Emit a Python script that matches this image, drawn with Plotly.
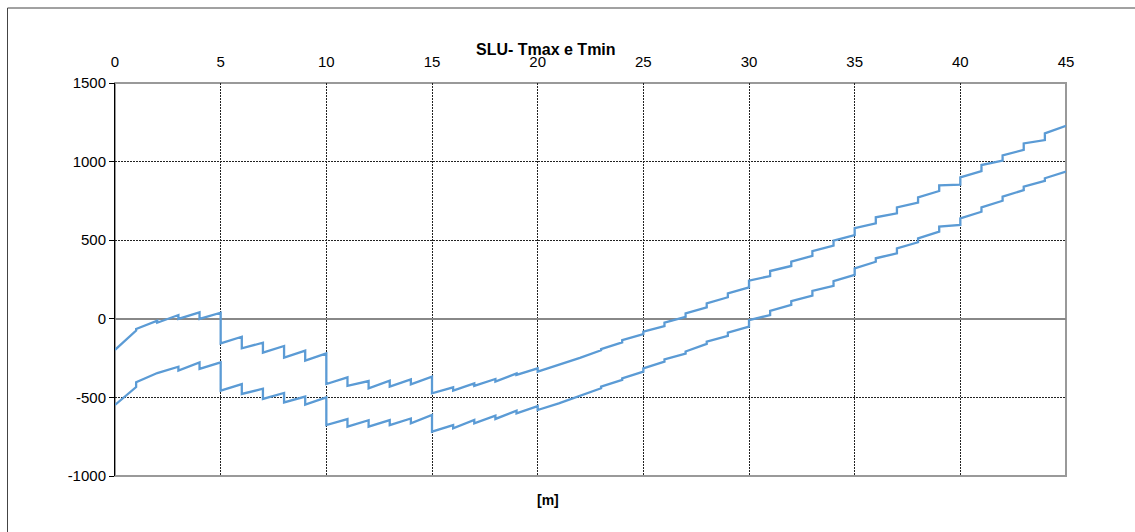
import plotly.graph_objects as go

# Stations along the beam [m]
stations = [0, 1, 2, 3, 4, 5, 6, 7, 8, 9, 10, 11, 12, 13, 14, 15, 16, 17, 18, 19, 20, 21, 22,
            23, 24, 25, 26, 27, 28, 29, 30, 31, 32, 33, 34, 35, 36, 37, 38, 39, 40, 41, 42, 43, 44, 45]

# Tmax: value just left of each station, and value just right of it (jumps at stations)
tmax_left = [-198, -75, -12, 24, 41, 39, -114, -152, -173, -203, -220, -372, -396, -394, -385, -368,
             -436, -411, -383, -347, -315, -294, -251, -200, -150, -97, -46, 13, 73, 137, 200, 272,
             336, 400, 465, 533, 607, 671, 739, 813, 853, 940, 1006, 1074, 1137, 1228]
tmax_right = [-198, -65, -25, -1, -1, -156, -188, -215, -247, -266, -415, -427, -442, -432, -417, -474,
              -457, -427, -400, -357, -336, -294, -248, -193, -135, -82, -25, 35, 98, 162, 243, 304,
              363, 431, 497, 576, 646, 709, 773, 849, 900, 978, 1040, 1116, 1180, 1228]

# Tmin: same layout
tmin_left = [-548, -434, -345, -305, -277, -277, -415, -445, -472, -495, -500, -638, -645, -644, -634, -612,
             -676, -644, -616, -584, -555, -538, -491, -442, -389, -336, -272, -222, -160, -109, -50, 24,
             88, 147, 209, 279, 363, 417, 487, 554, 597, 681, 751, 819, 877, 936]
tmin_right = [-548, -404, -345, -330, -319, -457, -478, -510, -532, -546, -676, -686, -686, -676, -665, -718,
              -697, -665, -637, -601, -580, -538, -491, -432, -379, -315, -258, -208, -146, -88, -8, 50,
              113, 177, 240, 321, 385, 448, 512, 586, 639, 709, 777, 840, 894, 936]

y_ticks = [-1000, -500, 0, 500, 1000, 1500]
y_tick_text = ["-1000", "-500", "0", "500", "1000", "1500"]
x_ticks = [0, 5, 10, 15, 20, 25, 30, 35, 40, 45]

TITLE = "SLU- Tmax e Tmin"
X_TITLE = "[m]"

LINE_COLOR = "#5b9bd5"
FONT = "Liberation Sans, Arial, sans-serif"

W, H = 1135, 532
PLOT_L, PLOT_R, PLOT_T, PLOT_B = 115, 1066, 83, 476


def px_x(p):
    return (p - PLOT_L) / (PLOT_R - PLOT_L)


def px_y(p):
    return (PLOT_B - p) / (PLOT_B - PLOT_T)


def stepped(xs, left, right):
    px, py = [], []
    for x, a, b in zip(xs, left, right):
        px.append(x)
        py.append(a)
        if b != a:
            px.append(x)
            py.append(b)
    return px, py


fig = go.Figure()
for name, l, r in (("Tmax", tmax_left, tmax_right), ("Tmin", tmin_left, tmin_right)):
    xs, ys = stepped(stations, l, r)
    fig.add_trace(go.Scatter(x=xs, y=ys, mode="lines", name=name,
                             line=dict(color=LINE_COLOR, width=2.3), hoverinfo="skip"))

fig.update_layout(
    width=W, height=H,
    margin=dict(l=PLOT_L, r=W - PLOT_R, t=PLOT_T, b=H - PLOT_B, pad=0),
    paper_bgcolor="white", plot_bgcolor="white",
    showlegend=False,
    font=dict(family=FONT, size=15, color="#000000"),
    xaxis=dict(
        range=[0, 45], side="top", tickvals=x_ticks, ticks="",
        ticklabelstandoff=12,
        showgrid=True, gridcolor="#222222", gridwidth=1, griddash="2px,1px",
        zeroline=False, showline=False,
        tickfont=dict(size=15),
    ),
    yaxis=dict(
        range=[-1000, 1500], tickvals=y_ticks, ticktext=y_tick_text,
        ticks="outside", ticklen=5,
        tickcolor="#000000", tickwidth=1,
        showgrid=True, gridcolor="#222222", gridwidth=1, griddash="2px,1px",
        zeroline=True, zerolinecolor="#888888", zerolinewidth=2,
        showline=True, linecolor="#000000", linewidth=1,
        tickfont=dict(size=15),
    ),
    annotations=[
        dict(text=f"<b>{TITLE}</b>", xref="paper", yref="paper",
             x=px_x(546), y=px_y(50), xanchor="center", yanchor="middle",
             showarrow=False, font=dict(size=16, family=FONT)),
        dict(text=f"<b>{X_TITLE}</b>", xref="paper", yref="paper",
             x=px_x(548), y=px_y(500), xanchor="center", yanchor="middle",
             showarrow=False, font=dict(size=14, family=FONT)),
    ],
    shapes=[
        # plot-area border
        dict(type="rect", xref="paper", yref="paper", x0=0, x1=1, y0=0, y1=1,
             line=dict(color="#999999", width=2), layer="below"),
        # outer chart frame
        dict(type="line", xref="paper", yref="paper",
             x0=px_x(7.5), x1=px_x(7.5), y0=px_y(8), y1=px_y(560),
             line=dict(color="#444444", width=1)),
        dict(type="line", xref="paper", yref="paper",
             x0=px_x(7.5), x1=px_x(1160), y0=px_y(8), y1=px_y(8),
             line=dict(color="#444444", width=1)),
    ],
)

fig.write_html("out.html")
